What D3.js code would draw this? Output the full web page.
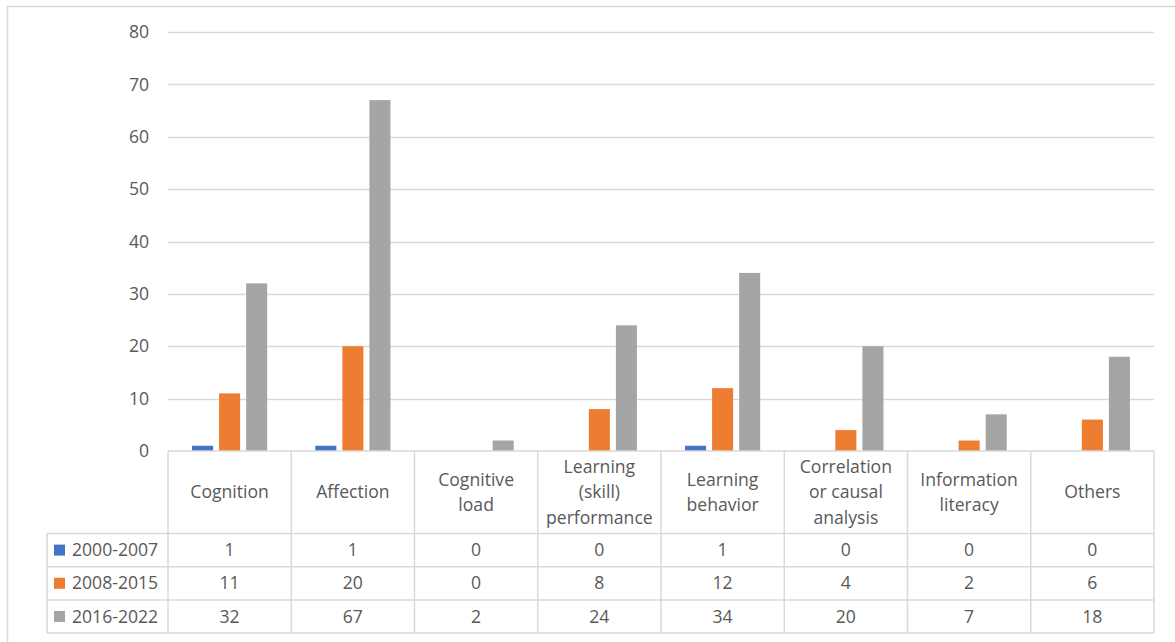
<!DOCTYPE html>
<html>
<head>
<meta charset="utf-8">
<script src="https://cdn.jsdelivr.net/npm/d3@7"></script>
<style>
  html, body { margin: 0; padding: 0; background: #fff; }
  svg text { font-family: "Open Sans", "Noto Sans", sans-serif; fill: #595959; }
</style>
</head>
<body>
<svg id="chart" width="1175" height="642"></svg>
<script>
// Category labels (line breaks as shown in the data-table header)
const categories = [
  ["Cognition"],
  ["Affection"],
  ["Cognitive", "load"],
  ["Learning", "(skill)", "performance"],
  ["Learning", "behavior"],
  ["Correlation", "or causal", "analysis"],
  ["Information", "literacy"],
  ["Others"]
];
const seriesNames = ["2000-2007", "2008-2015", "2016-2022"];
const values2000_2007 = [1, 1, 0, 0, 1, 0, 0, 0];
const values2008_2015 = [11, 20, 0, 8, 12, 4, 2, 6];
const values2016_2022 = [32, 67, 2, 24, 34, 20, 7, 18];
const seriesColors = ["#4472C4", "#ED7D31", "#A5A5A5"];
const yTicks = [0, 10, 20, 30, 40, 50, 60, 70, 80];

const seriesValues = [values2000_2007, values2008_2015, values2016_2022];

const svg = d3.select("#chart");
const gridColor = "#D9D9D9";
const fontSize = 17.6;

// Chart frame
svg.append("rect")
  .attr("x", 7.5).attr("y", 6.5)
  .attr("width", 1200).attr("height", 700)
  .attr("fill", "none").attr("stroke", gridColor).attr("stroke-width", 1.5);

const plotLeft = 168, plotRight = 1154, plotTop = 32, plotBottom = 451;

const x0 = d3.scaleBand()
  .domain(d3.range(categories.length))
  .range([plotLeft, plotRight])
  .padding(0);

const x1 = d3.scaleBand()
  .domain(d3.range(seriesNames.length))
  .range([0, x0.bandwidth()])
  .paddingInner(0.222)
  .paddingOuter(0.889);

const y = d3.scaleLinear().domain([0, 80]).range([plotBottom, plotTop]);

// Gridlines
svg.append("g")
  .selectAll("line")
  .data(yTicks.filter(t => t > 0))
  .join("line")
  .attr("x1", plotLeft).attr("x2", plotRight)
  .attr("y1", d => Math.round(y(d)) + 0.5).attr("y2", d => Math.round(y(d)) + 0.5)
  .attr("stroke", gridColor).attr("stroke-width", 1.5);

// Y axis labels
const yAxis = d3.axisLeft(y).tickValues(yTicks).tickSize(0).tickPadding(0);
const yg = svg.append("g").attr("transform", `translate(${plotLeft - 19},0)`).call(yAxis);
yg.select(".domain").remove();
yg.selectAll("text")
  .attr("font-family", "'Open Sans', 'Noto Sans', sans-serif")
  .attr("font-size", fontSize).attr("fill", "#595959");

// Bars
const groups = svg.append("g")
  .selectAll("g")
  .data(categories.map((c, i) => i))
  .join("g")
  .attr("transform", i => `translate(${x0(i)},0)`);

groups.selectAll("rect")
  .data(i => seriesValues.map((vals, s) => ({ s, v: vals[i] })))
  .join("rect")
  .attr("x", d => x1(d.s))
  .attr("width", x1.bandwidth())
  .attr("y", d => y(d.v))
  .attr("height", d => y(0) - y(d.v))
  .attr("fill", d => seriesColors[d.s]);

// Data table
const headerBottom = 533.5;
const rowH = 33.2;
const tableLeft = 47;
const tableBottom = headerBottom + rowH * seriesNames.length;
const table = svg.append("g").attr("stroke", gridColor).attr("stroke-width", 1.5);

// horizontal lines
table.append("line").attr("x1", plotLeft).attr("x2", plotRight).attr("y1", plotBottom).attr("y2", plotBottom);
d3.range(seriesNames.length + 1).forEach(r => {
  const yy = headerBottom + r * rowH;
  table.append("line").attr("x1", tableLeft).attr("x2", plotRight).attr("y1", yy).attr("y2", yy);
});
// vertical lines
table.append("line").attr("x1", tableLeft).attr("x2", tableLeft).attr("y1", headerBottom).attr("y2", tableBottom);
d3.range(categories.length + 1).forEach(i => {
  const xx = i < categories.length ? x0(i) : plotRight;
  table.append("line").attr("x1", xx).attr("x2", xx).attr("y1", plotBottom).attr("y2", tableBottom);
});

// Header category labels
const lineH = 25.5;
const headerMid = (plotBottom + headerBottom) / 2;
categories.forEach((lines, i) => {
  const cx = x0(i) + x0.bandwidth() / 2;
  const t = svg.append("text")
    .attr("text-anchor", "middle")
    .attr("font-size", fontSize);
  lines.forEach((ln, k) => {
    t.append("tspan")
      .attr("x", cx)
      .attr("y", headerMid + (k - (lines.length - 1) / 2) * lineH)
      .attr("dy", "0.35em")
      .text(ln);
  });
});

// Row legends and values
seriesNames.forEach((name, s) => {
  const cy = headerBottom + s * rowH + rowH / 2;
  svg.append("rect")
    .attr("x", 54).attr("y", cy - 5.5)
    .attr("width", 11).attr("height", 11)
    .attr("fill", seriesColors[s]);
  svg.append("text")
    .attr("x", 72).attr("y", cy).attr("dy", "0.35em")
    .attr("font-size", fontSize)
    .text(name);
  seriesValues[s].forEach((v, i) => {
    svg.append("text")
      .attr("x", x0(i) + x0.bandwidth() / 2)
      .attr("y", cy).attr("dy", "0.35em")
      .attr("text-anchor", "middle")
      .attr("font-size", fontSize)
      .text(v);
  });
});
</script>
</body>
</html>
